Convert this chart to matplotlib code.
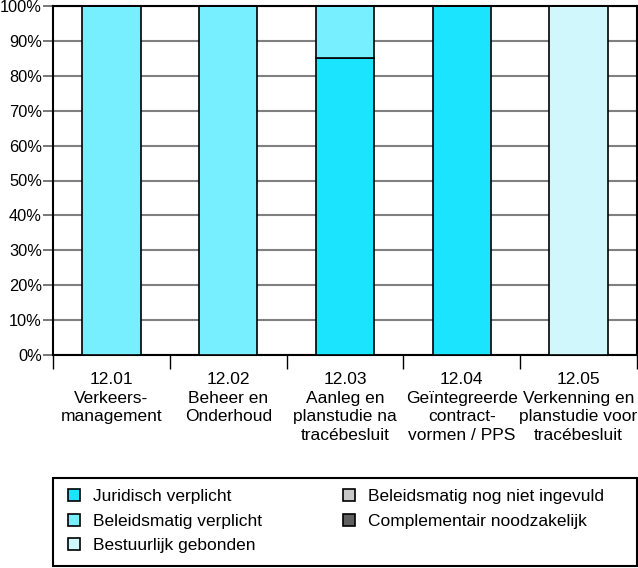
import matplotlib.pyplot as plt
from matplotlib.patches import Rectangle
import numpy as np

plt.rcParams['font.family'] = ['Liberation Sans', 'DejaVu Sans']

categories = ['12.01\nVerkeers-\nmanagement', '12.02\nBeheer en\nOnderhoud',
              '12.03\nAanleg en\nplanstudie na\ntracébesluit',
              '12.04\nGeïntegreerde\ncontract-\nvormen / PPS',
              '12.05\nVerkenning en\nplanstudie voor\ntracébesluit']

juridisch = [0, 0, 85, 100, 0]
beleid_verplicht = [100, 100, 15, 0, 0]
bestuurlijk = [0, 0, 0, 0, 100]
beleid_nog_niet = [0, 0, 0, 0, 0]
complementair = [0, 0, 0, 0, 0]

series = [
    ('Juridisch verplicht', juridisch, '#1be4ff'),
    ('Beleidsmatig verplicht', beleid_verplicht, '#78effe'),
    ('Bestuurlijk gebonden', bestuurlijk, '#d0f8fc'),
    ('Beleidsmatig nog niet ingevuld', beleid_nog_niet, '#c8c8c8'),
    ('Complementair noodzakelijk', complementair, '#606060'),
]

fig = plt.figure(figsize=(6.38, 5.68), dpi=100)
ax = fig.add_axes([53/638, 1 - 355/568, 584/638, 349/568])

x = np.arange(len(categories))
bottom = np.zeros(len(categories))
handles = []
for name, vals, col in series:
    vals = np.array(vals, dtype=float)
    b = ax.bar(x, vals, width=0.5, bottom=bottom, color=col, edgecolor='black',
               linewidth=1.2, label=name, zorder=3)
    handles.append(b)
    bottom += vals

ax.set_xlim(-0.5, len(categories) - 0.5)
ax.set_ylim(0, 100)
ax.set_yticks(np.arange(0, 101, 10))
ax.set_yticklabels([f'{v}%' for v in range(0, 101, 10)], fontsize=11.8)
ax.yaxis.grid(True, color='#808080', linewidth=1.5, zorder=0)
ax.set_axisbelow(True)

ax.set_xticks(x)
ax.set_xticklabels(categories, fontsize=12.5, linespacing=1.32)
ax.tick_params(axis='x', length=0, pad=12)
ax.set_xticks(np.arange(-0.5, len(categories)), minor=True)
ax.tick_params(axis='x', which='minor', length=10, width=1, color='black')
ax.tick_params(axis='y', length=7, width=1.2, color='#606060', pad=1)

for s in ax.spines.values():
    s.set_linewidth(1.5)
    s.set_color('black')

# legend frame drawn by hand
fig.patches.append(Rectangle((53/638, 2/568), 584/638, 88/568, transform=fig.transFigure,
                             fill=False, edgecolor='black', linewidth=1.5))
leg = fig.legend(handles=handles, loc='upper left', ncol=2,
                 bbox_to_anchor=(59/638, 1 - 480/568),
                 fontsize=12.5, frameon=False, borderpad=0,
                 handlelength=0.69, handleheight=0.69, handletextpad=0.75,
                 labelspacing=0.56, columnspacing=4.7)

fig.savefig('out.png', dpi=100)
